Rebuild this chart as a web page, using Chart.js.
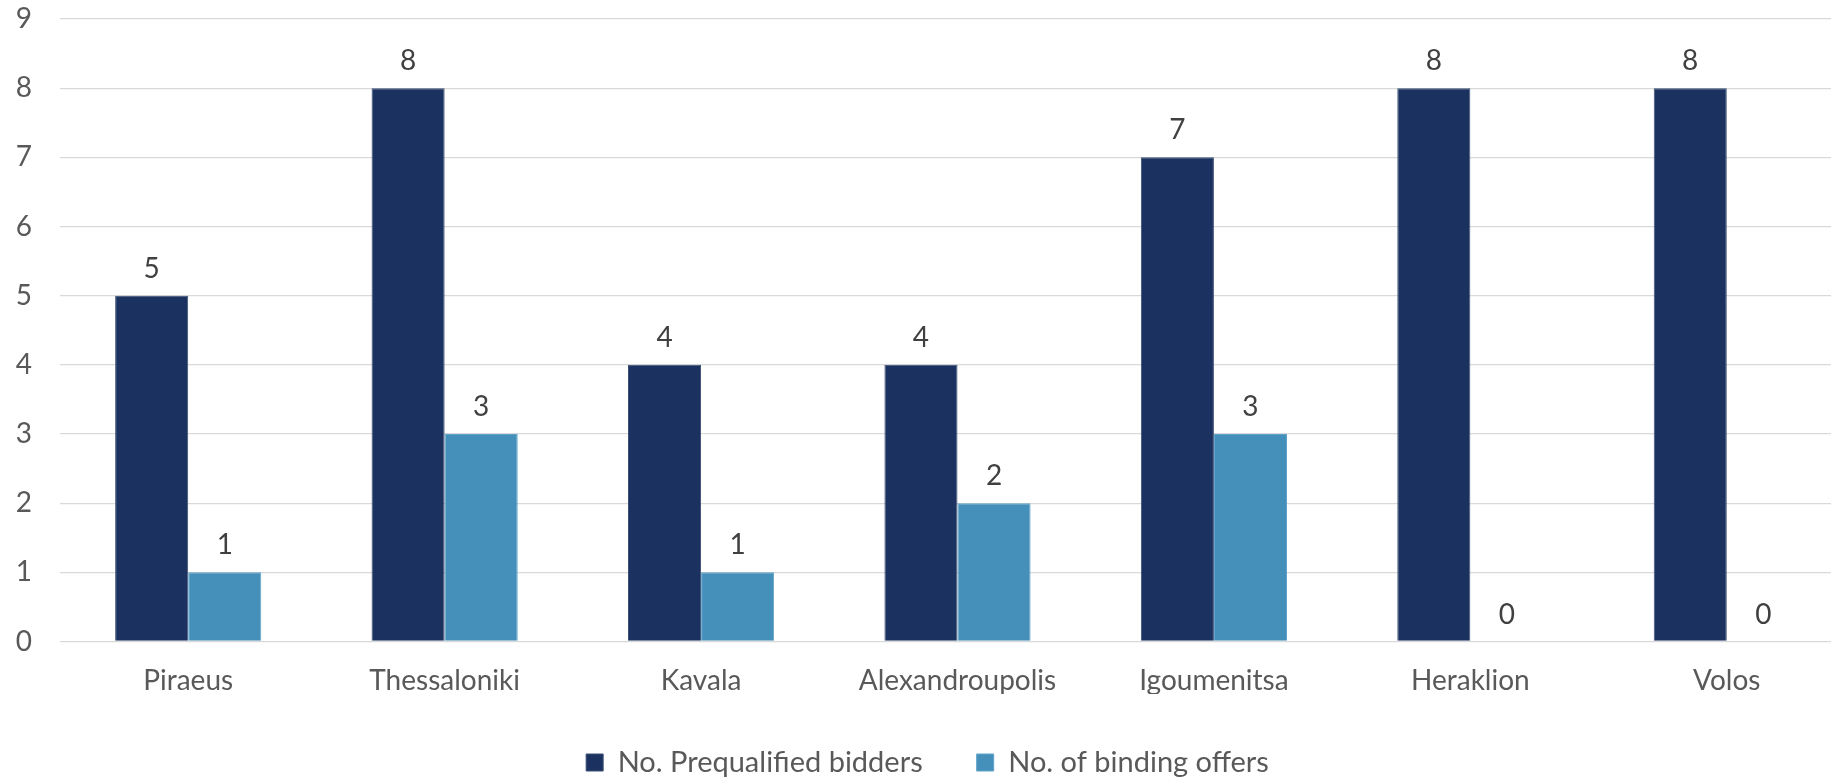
<!DOCTYPE html>
<html>
<head>
<meta charset="utf-8">
<script src="https://cdn.jsdelivr.net/npm/chart.js@4.4.1/dist/chart.umd.min.js"></script>
<style>
  html, body { margin: 0; padding: 0; background: #ffffff; overflow: hidden; }
  #wrap { width: 1831px; height: 780px; overflow: hidden; position: relative; }
  canvas { display: block; }
</style>
</head>
<body>
<div id="wrap"><canvas id="c" width="1892" height="780"></canvas></div>
<script>
const categories = ["Piraeus", "Thessaloniki", "Kavala", "Alexandroupolis", "Igoumenitsa", "Heraklion", "Volos"];
const prequalified = [5, 8, 4, 4, 7, 8, 8];
const bindingOffers = [1, 3, 1, 2, 3, 0, 0];
const seriesNames = ["No. Prequalified bidders", "No. of binding offers"];
const yTicks = [0, 1, 2, 3, 4, 5, 6, 7, 8, 9];

const FONT = "Lato, 'Open Sans', sans-serif";

const valueLabels = {
  id: 'valueLabels',
  afterDatasetsDraw(chart) {
    const ctx = chart.ctx;
    ctx.save();
    ctx.font = "28px " + FONT;
    ctx.fillStyle = "#404040";
    ctx.textAlign = "center";
    ctx.textBaseline = "alphabetic";
    chart.data.datasets.forEach((ds, i) => {
      const meta = chart.getDatasetMeta(i);
      meta.data.forEach((el, j) => {
        ctx.fillText(String(ds.data[j]), el.x, el.y - 18);
      });
    });
    ctx.restore();
  }
};

new Chart(document.getElementById('c'), {
  type: 'bar',
  data: {
    labels: categories,
    datasets: [
      { label: seriesNames[0], data: prequalified, backgroundColor: "#1B3260", borderColor: "#3B4E73", borderWidth: 1, barPercentage: 1.0, categoryPercentage: 0.57 },
      { label: seriesNames[1], data: bindingOffers, backgroundColor: "#4590BA", borderColor: "#5FA3C8", borderWidth: 1, barPercentage: 1.0, categoryPercentage: 0.57 }
    ]
  },
  options: {
    responsive: false,
    animation: false,
    layout: { padding: { top: 19, right: 37, left: 0, bottom: -7 } },
    plugins: {
      legend: {
        position: 'bottom',
        labels: {
          font: { family: FONT, size: 29 },
          color: "#595959",
          boxWidth: 17,
          boxHeight: 17,
          padding: 54
        }
      },
      tooltip: { enabled: false }
    },
    scales: {
      x: {
        grid: { display: false },
        border: { display: false },
        ticks: { font: { family: FONT, size: 28 }, color: "#595959", padding: 15, maxRotation: 0, autoSkip: false },
        afterFit(scale) { scale.height = 52.5; }
      },
      y: {
        min: 0, max: 9,
        afterBuildTicks(scale) { scale.ticks = yTicks.map(v => ({ value: v })); },
        grid: { color: "#D9D9D9", lineWidth: 1.3, drawTicks: false },
        border: { display: false },
        ticks: { font: { family: FONT, size: 28 }, color: "#595959", padding: 28 },
        afterFit(scale) { scale.width = 60; scale.paddingTop = 0; scale.paddingBottom = 0; }
      }
    }
  },
  plugins: [valueLabels]
});
</script>
</body>
</html>
